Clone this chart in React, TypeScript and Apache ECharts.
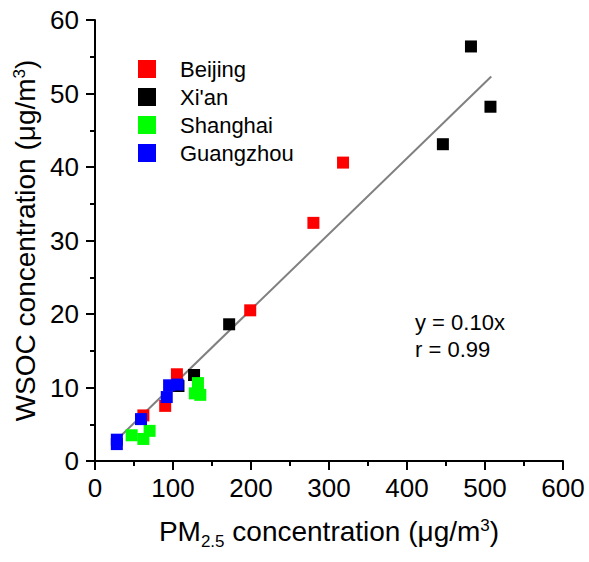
import React, { useEffect, useRef } from "react";
import * as echarts from "echarts";

const FONT = '"Liberation Sans", Arial, sans-serif';

const cities = ["Beijing", "Xi'an", "Shanghai", "Guangzhou"];
const cityColors = ["#FF0000", "#000000", "#00FF00", "#0000FF"];

// [PM2.5, WSOC]
const beijing: [number, number][] = [
  [318, 40.6],
  [280, 32.4],
  [199, 20.5],
  [105, 11.8],
  [90, 7.5],
  [62, 6.2],
];
const xian: [number, number][] = [
  [482, 56.4],
  [507, 48.2],
  [446, 43.1],
  [172, 18.6],
  [127, 11.7],
  [107, 10.2],
];
const shanghai: [number, number][] = [
  [132, 10.6],
  [128, 9.2],
  [135, 9.0],
  [47, 3.5],
  [62, 3.0],
  [70, 4.1],
];
const guangzhou: [number, number][] = [
  [28, 2.3],
  [28, 2.9],
  [59, 5.7],
  [92, 8.7],
  [95, 10.3],
  [106, 10.4],
];
const seriesData = [beijing, xian, shanghai, guangzhou];

const fitSlope = 0.103;
const fitRange = [28, 508];

const xTicks = { min: 0, max: 600, interval: 100 };
const yTicks = { min: 0, max: 60, interval: 10 };

const equationLines = ["y = 0.10x", "r = 0.99"];

export default function App() {
  const ref = useRef<HTMLDivElement>(null);
  useEffect(() => {
    if (!ref.current) return;
    const chart = echarts.init(ref.current, null, { renderer: "svg" });
    const axisCommon = {
      axisLine: { show: true, onZero: false, lineStyle: { color: "#000", width: 2 } },
      axisTick: { show: true, inside: false, length: 9, lineStyle: { color: "#000", width: 2 } },
      minorTick: { show: true, splitNumber: 2, length: 5, lineStyle: { color: "#000", width: 2 } },
      splitLine: { show: false },
      nameLocation: "middle" as const,
    };
    chart.setOption({
      animation: false,
      backgroundColor: "#fff",
      grid: { left: 95, right: 26, top: 20, bottom: 101, containLabel: false },
      legend: {
        orient: "vertical",
        left: 138,
        top: 58,
        padding: 0,
        itemWidth: 18,
        itemHeight: 18,
        itemGap: 6,
        icon: "rect",
        data: cities,
        textStyle: {
          fontFamily: FONT,
          fontSize: 22,
          color: "#000",
          lineHeight: 18,
          padding: [0, 0, 0, 19],
        },
      },
      xAxis: {
        type: "value",
        ...xTicks,
        ...axisCommon,
        axisLabel: { fontFamily: FONT, fontSize: 26, color: "#000", margin: 14 },
        name: "PM{sub|2.5} concentration (μg/m{sup|3})",
        nameGap: 52,
        nameTextStyle: {
          fontFamily: FONT,
          fontSize: 28,
          color: "#000",
          rich: {
            sub: { fontFamily: FONT, fontSize: 17, color: "#000", padding: [20, 0, 0, 0] },
            sup: { fontFamily: FONT, fontSize: 17, color: "#000", padding: [0, 0, 12, 0] },
          },
        },
      },
      yAxis: {
        type: "value",
        ...yTicks,
        ...axisCommon,
        axisLabel: { fontFamily: FONT, fontSize: 26, color: "#000", margin: 16 },
        name: "WSOC concentration (μg/m{sup|3})",
        nameRotate: 90,
        nameGap: 54,
        nameTextStyle: {
          fontFamily: FONT,
          fontSize: 28,
          color: "#000",
          rich: {
            sup: { fontFamily: FONT, fontSize: 17, color: "#000", padding: [0, 0, 12, 0] },
          },
        },
      },
      graphic: [
        {
          type: "text",
          left: 415,
          top: 309,
          style: {
            text: equationLines.join("\n"),
            fontFamily: FONT,
            fontSize: 22,
            lineHeight: 27,
            fill: "#000",
          },
        },
      ],
      series: [
        {
          type: "line",
          data: fitRange.map((x) => [x, x * fitSlope]),
          showSymbol: false,
          symbol: "none",
          lineStyle: { color: "#808080", width: 2 },
          z: 1,
          silent: true,
        },
        ...cities.map((name, i) => ({
          type: "scatter",
          name,
          data: seriesData[i],
          symbol: "rect",
          symbolSize: 12,
          itemStyle: { color: cityColors[i], opacity: 1 },
          z: 2 + i,
        })),
      ],
    });
    return () => chart.dispose();
  }, []);
  return (
    <div
      ref={ref}
      style={{ position: "absolute", left: 0, top: 0, width: 589, height: 562 }}
    />
  );
}
